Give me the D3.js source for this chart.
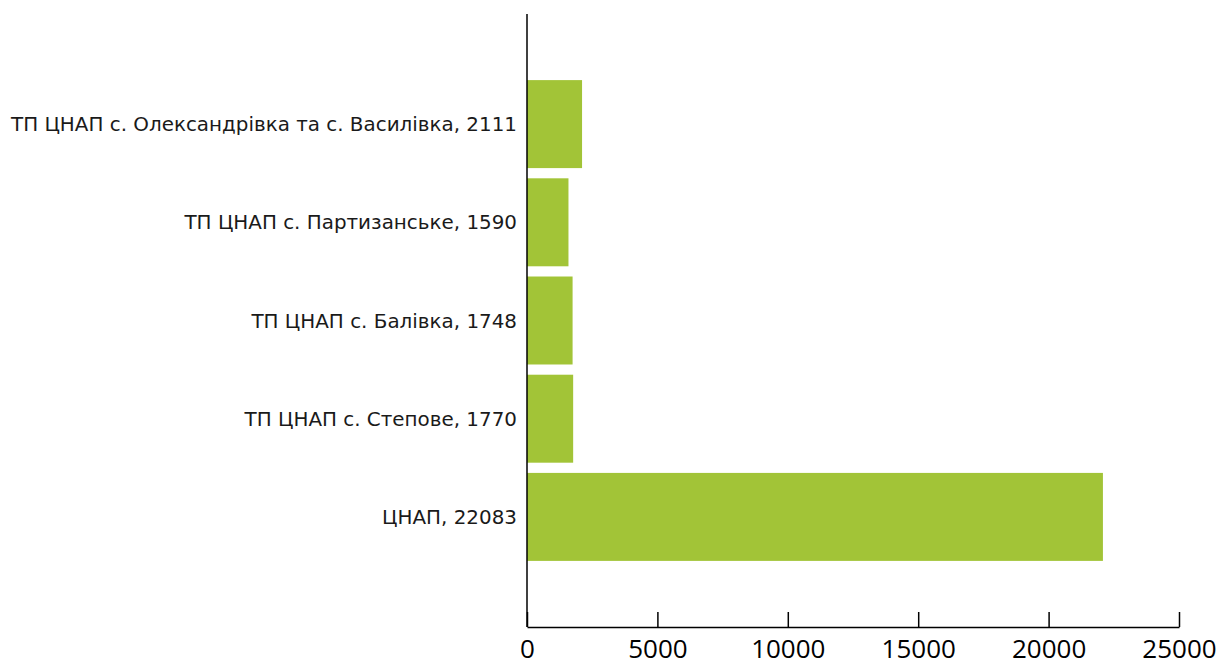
<!DOCTYPE html>
<html><head><meta charset="utf-8">
<script src="https://cdn.jsdelivr.net/npm/d3@7"></script>
<style>body{margin:0;background:#fff}svg{display:block}</style>
</head><body>
<svg id="c" width="1222" height="662"></svg>
<script>
const categories = ["ТП ЦНАП с. Олександрівка та с. Василівка, 2111","ТП ЦНАП с. Партизанське, 1590","ТП ЦНАП с. Балівка, 1748","ТП ЦНАП с. Степове, 1770","ЦНАП, 22083"];
const values = [2111,1590,1748,1770,22083];
const ticks = [0,5000,10000,15000,20000,25000];

const svg = d3.select("#c");
const x0 = 527, x1 = 1179, yAxis = 627, yTop = 14;
const x = d3.scaleLinear().domain([0,25000]).range([x0,x1]);
const y = d3.scaleBand().domain(categories).range([75,566]).paddingInner(0.104).paddingOuter(0.052);

svg.selectAll("rect.bar").data(values).join("rect")
  .attr("class","bar")
  .attr("x", x(0)).attr("y",(d,i)=>y(categories[i]))
  .attr("width", d=>x(d)-x(0)).attr("height", y.bandwidth())
  .attr("fill","#a2c437");

// category labels
svg.selectAll("text.cat").data(categories).join("text")
  .attr("class","cat")
  .attr("x", 517).attr("y", d=>y(d)+y.bandwidth()/2)
  .attr("dy","0.36em").attr("text-anchor","end")
  .attr("font-family","'DejaVu Sans', sans-serif").attr("font-size",19.9)
  .attr("fill","#1a1a1a").text(d=>d);

// vertical axis line
svg.append("line").attr("x1",x0).attr("x2",x0).attr("y1",yTop).attr("y2",yAxis)
  .attr("stroke","#000").attr("stroke-width",1.5);

// x axis
const ax = svg.append("g").attr("transform",`translate(0,${yAxis})`)
  .call(d3.axisBottom(x).tickValues(ticks).tickSize(-15).tickPadding(13).tickSizeOuter(0).tickFormat(d3.format("d")));
ax.select(".domain").attr("stroke","#000").attr("stroke-width",1.5);
ax.selectAll(".tick line").attr("stroke","#000").attr("stroke-width",1.5);
ax.selectAll(".tick text").attr("font-family","'Open Sans',sans-serif")
  .attr("font-size",26).attr("fill","#000");
</script>
</body></html>
